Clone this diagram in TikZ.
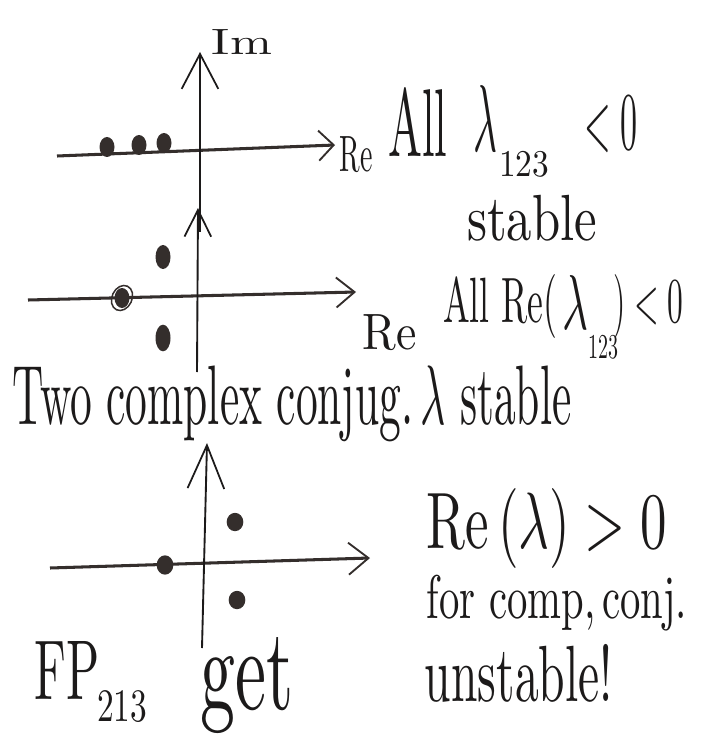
\documentclass[tikz,border=0pt]{standalone}
\usepackage{amsmath}
\usepackage{graphicx}
\usepackage{tikz}
\usetikzlibrary{arrows.meta, shapes.geometric, positioning, calc}
\definecolor{InkGray}{RGB}{52, 46, 44}
\definecolor{PenBlack}{RGB}{28, 26, 26}
\newlength{\px}
\setlength{\px}{0.03cm}
\newcommand{\ink}[3]{\resizebox*{#1\px}{#2\px}{#3}}

\begin{document}
\begin{tikzpicture}[x=0.03cm, y=-0.03cm,
		haxis/.style={draw=InkGray, line width=2.6pt},
		vaxis/.style={draw=PenBlack, line width=1.6pt},
		eig/.style={fill=InkGray, ellipse, inner sep=0pt, minimum width=0.45cm, minimum height=0.6cm},
		txt/.style={text=PenBlack, inner sep=0pt}]
	\useasboundingbox (0,0) rectangle (700,738);
	% panel 1: three real negative eigenvalues
	\coordinate (ha0) at (57,156);  \coordinate (ha1) at (335,145);
	\coordinate (va0) at (200,232); \coordinate (va1) at (200,52);
	\draw[haxis, -{Straight Barb[length=0.45cm, width=0.9cm, line width=1.6pt]}] (ha0) -- (ha1);
	\draw[vaxis, -{Straight Barb[length=1.05cm, width=1.1cm, line width=1.5pt]}] (va0) -- (va1);
	\node[txt] (im) at (242,42) {\ink{60}{25}{Im}};
	\node[txt] (re1) at (356,155) {\ink{33}{36}{Re}};
	\foreach \i/\x/\y in {0/107/147, 1/139/145, 2/164/143}{
		\node[eig] (p\i) at (\x,\y) {};
	}
	\node[txt] (all1) at (418,122) {\ink{59}{69}{All}};
	\node[txt] (lam1) at (485,118) {\ink{24}{66}{$\lambda$}};
	\node[txt] (sub1) at (524,164) {\ink{50}{26}{123}};
	\node[txt] (neg1) at (611,125) {\ink{53}{56}{$<0$}};
	\node[txt] (stab1) at (532,218) {\ink{130}{46}{stable}};
	% panel 2: complex conjugate pair, real parts negative
	\coordinate (hb0) at (28,300);  \coordinate (hb1) at (356,292);
	\coordinate (vb0) at (197,372); \coordinate (vb1) at (198,208);
	\draw[haxis, -{Straight Barb[length=0.55cm, width=0.9cm, line width=1.6pt]}] (hb0) -- (hb1);
	\draw[vaxis, -{Straight Barb[length=0.8cm, width=0.8cm, line width=1.5pt]}] (vb0) -- (vb1);
	\node[txt] (re2) at (390,333) {\ink{54}{36}{Re}};
	\node[eig, minimum height=0.72cm] (q0) at (163,257) {};
	\node[eig] (q1) at (122,298) {};
	\draw[InkGray, line width=1.3pt, rotate around={-25:(q1)}] (q1) circle [x radius=10, y radius=13];
	\node[eig, minimum height=0.8cm] (q2) at (163,338) {};
	\node[txt] (all2) at (500,306) {\ink{114}{64}{All Re(}};
	\node[txt] (lam2) at (575,302) {\ink{26}{54}{$\lambda$}};
	\node[txt] (sub2) at (603,347) {\ink{30}{24}{123}};
	\node[txt] (neg2) at (648,306) {\ink{70}{64}{$)<0$}};
	\node[txt] (two) at (292,404) {\ink{559}{76}{Two complex conjug.\,$\lambda$ stable}};
	% panel 3: unstable pair
	\coordinate (hc0) at (50,568);  \coordinate (hc1) at (370,558);
	\coordinate (vc0) at (202,648); \coordinate (vc1) at (207,443);
	\draw[haxis, -{Straight Barb[length=0.6cm, width=0.96cm, line width=1.6pt]}] (hc0) -- (hc1);
	\draw[vaxis, -{Straight Barb[length=1.3cm, width=1.1cm, line width=1.5pt]}] (vc0) -- (vc1);
	\node[eig, minimum width=0.5cm, minimum height=0.58cm] (r0) at (165,565) {};
	\node[eig, minimum width=0.5cm, minimum height=0.55cm] (r1) at (235,522) {};
	\node[eig, minimum width=0.5cm, minimum height=0.55cm] (r2) at (237,600) {};
	\node[txt] (re3) at (547,528) {\ink{240}{80}{Re$\,(\lambda)>0$}};
	\node[txt] (comp) at (557,603) {\ink{260}{56}{for comp,\,conj.}};
	\node[txt] (fp) at (67,670) {\ink{65}{58}{FP}};
	\node[txt] (sub3) at (122,707) {\ink{50}{32}{213}};
	\node[txt] (get) at (247,686) {\ink{93}{96}{get}};
	\node[txt] (unst) at (519,673) {\ink{188}{58}{unstable!}};
\end{tikzpicture}
\end{document}
